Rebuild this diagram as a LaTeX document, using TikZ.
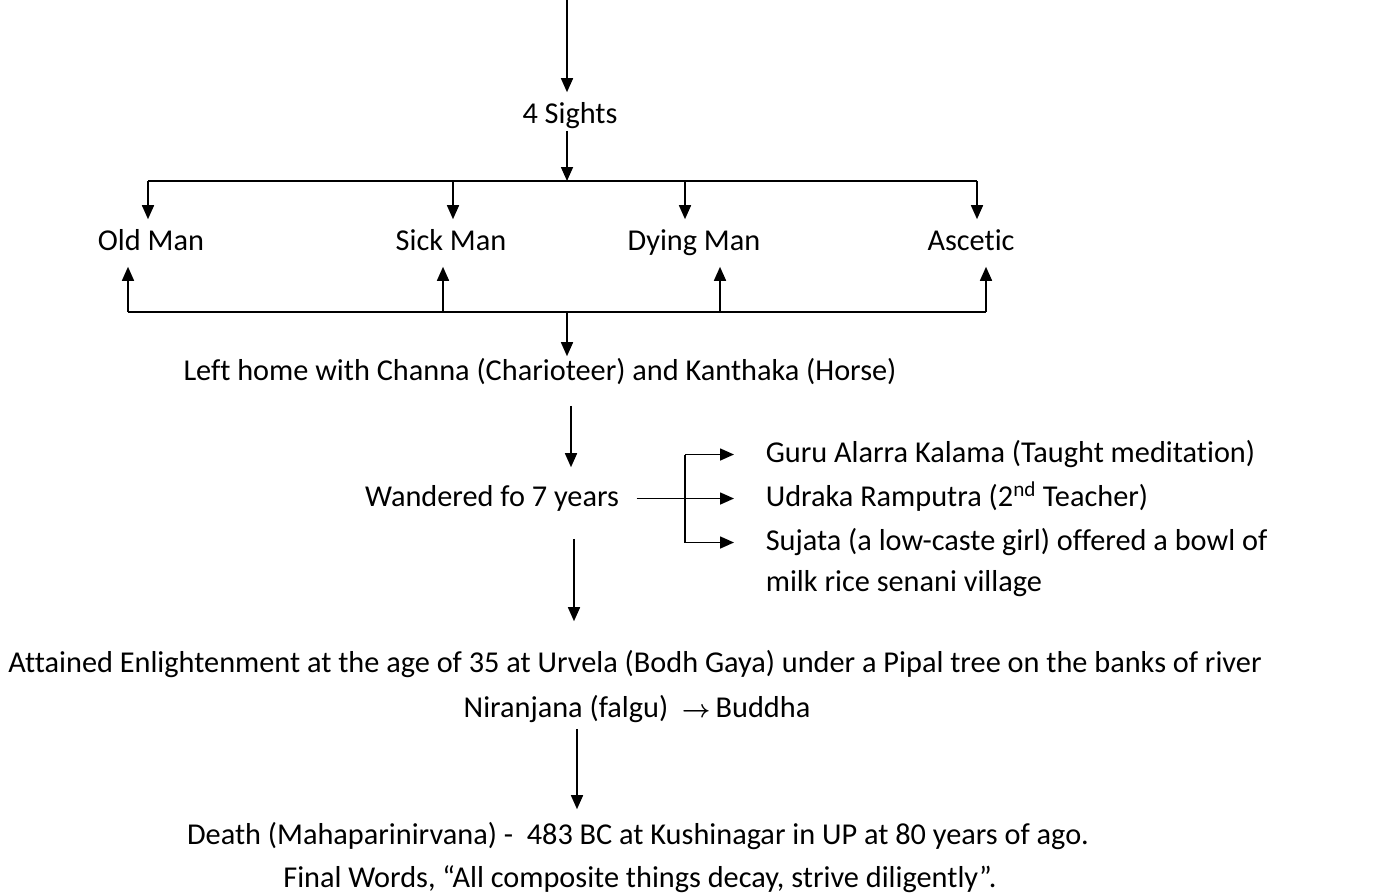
\documentclass[tikz,border=0pt]{standalone}
\usepackage{fontspec}
\setmainfont[Ligatures=NoCommon]{Carlito}
\usetikzlibrary{arrows.meta}
\begin{document}
\begin{tikzpicture}[x=1pt,y=-1pt,line width=1.6pt,
  arr/.style={-{Triangle[length=14pt,width=12pt]}},
  lbl/.style={inner sep=0pt,anchor=base,text height=22pt,text depth=7pt,font=\fontsize{30.3}{36}\selectfont},
  lbw/.style={lbl,anchor=base west}]
\useasboundingbox (0,0) rectangle (1380,895);
% nodes
\node[lbl] (sights) at (570,123) {4 Sights};
\node[lbl] (old) at (151,250) {Old Man};
\node[lbl] (sick) at (451,250) {Sick Man};
\node[lbl] (dying) at (694,250) {Dying Man};
\node[lbl] (asc) at (971,250) {Ascetic};
\node[lbl] (left) at (540,380) {Left home with Channa (Charioteer) and Kanthaka (Horse)};
\node[lbl] (wand) at (492,506) {Wandered fo 7 years};
\node[lbw] (guru) at (765,462) {Guru Alarra Kalama (Taught meditation)};
\node[lbw] (udr) at (765,506) {Udraka Ramputra (2\textsuperscript{nd} Teacher)};
\node[lbw] (suj) at (765,550) {Sujata (a low-caste girl) offered a bowl of};
\node[lbw] (milk) at (765,591) {milk rice senani village};
\node[lbl] (att) at (635,672) {Attained Enlightenment at the age of 35 at Urvela (Bodh Gaya) under a Pipal tree on the banks of river};
\node[lbl] (nir) at (637,717) {Niranjana (falgu)\ \ {\boldmath$\rightarrow$}\,Buddha};
\node[lbl] (death) at (638,844) {Death (Mahaparinirvana) -\ \ 483 BC at Kushinagar in UP at 80 years of ago.};
\node[lbl] (final) at (640,887) {Final Words, “All composite things decay, strive diligently”.};
% coordinates
\coordinate (top) at (567,0);
\coordinate (bus1) at (567,181);
\coordinate (b1a) at (148,181);
\coordinate (b1b) at (453,181);
\coordinate (b1c) at (685,181);
\coordinate (b1d) at (977,181);
\coordinate (b2a) at (128,312);
\coordinate (b2b) at (443,312);
\coordinate (b2c) at (720,312);
\coordinate (b2d) at (986,312);
\coordinate (b2m) at (567,312);
\coordinate (colA) at (571,0);
\coordinate (colB) at (574,0);
\coordinate (colC) at (577,0);
\coordinate (brk) at (685,0);
% connectors
\draw[arr,shorten >=8pt] (top) -- (top |- sights.north);
\draw[arr] (bus1 |- sights.south) -- (bus1);
\draw (b1a) -- (b1d);
\draw[arr,shorten >=8pt] (b1a) -- (b1a |- old.north);
\draw[arr,shorten >=8pt] (b1b) -- (b1b |- sick.north);
\draw[arr,shorten >=8pt] (b1c) -- (b1c |- dying.north);
\draw[arr,shorten >=8pt] (b1d) -- (b1d |- asc.north);
\draw (b2a) -- (b2d);
\draw[arr,shorten >=9pt] (b2a) -- (b2a |- old.south);
\draw[arr,shorten >=9pt] (b2b) -- (b2b |- sick.south);
\draw[arr,shorten >=9pt] (b2c) -- (b2c |- dying.south);
\draw[arr,shorten >=9pt] (b2d) -- (b2d |- asc.south);
\draw[arr,shorten >=1pt] (b2m) -- (b2m |- left.north);
\draw[arr,shorten <=18pt,shorten >=16pt] (colA |- left.south) -- (colA |- wand.north);
\draw[arr,shorten <=17pt,shorten >=31pt] (wand.east) -- (udr.west);
\draw (guru.west -| brk) -- (suj.west -| brk);
\draw[arr,shorten >=31pt] (guru.west -| brk) -- (guru.west);
\draw[arr,shorten >=31pt] (suj.west -| brk) -- (suj.west);
\draw[arr,shorten <=25pt,shorten >=28pt] (colB |- wand.south) -- (colB |- att.north);
\draw[arr,shorten <=4pt,shorten >=12pt] (colC |- nir.south) -- (colC |- death.north);
\end{tikzpicture}
\end{document}
